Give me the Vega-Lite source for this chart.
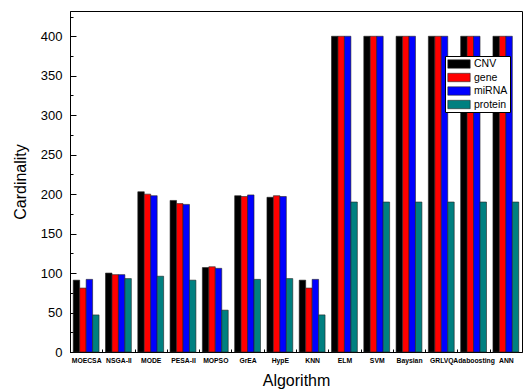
{
  "$schema": "https://vega.github.io/schema/vega-lite/v6.json",
  "autosize": "none",
  "width": 452,
  "height": 341,
  "padding": {"left": 70, "top": 11, "right": 8, "bottom": 39},
  "background": "white",
  "data": {
    "values": [
      {"algorithm": "MOECSA", "type": "CNV", "value": 91},
      {"algorithm": "MOECSA", "type": "gene", "value": 81},
      {"algorithm": "MOECSA", "type": "miRNA", "value": 92},
      {"algorithm": "MOECSA", "type": "protein", "value": 47},
      {"algorithm": "NSGA-II", "type": "CNV", "value": 100},
      {"algorithm": "NSGA-II", "type": "gene", "value": 98},
      {"algorithm": "NSGA-II", "type": "miRNA", "value": 98},
      {"algorithm": "NSGA-II", "type": "protein", "value": 93},
      {"algorithm": "MODE", "type": "CNV", "value": 203},
      {"algorithm": "MODE", "type": "gene", "value": 200},
      {"algorithm": "MODE", "type": "miRNA", "value": 198},
      {"algorithm": "MODE", "type": "protein", "value": 96},
      {"algorithm": "PESA-II", "type": "CNV", "value": 192},
      {"algorithm": "PESA-II", "type": "gene", "value": 188},
      {"algorithm": "PESA-II", "type": "miRNA", "value": 187},
      {"algorithm": "PESA-II", "type": "protein", "value": 91},
      {"algorithm": "MOPSO", "type": "CNV", "value": 107},
      {"algorithm": "MOPSO", "type": "gene", "value": 108},
      {"algorithm": "MOPSO", "type": "miRNA", "value": 106},
      {"algorithm": "MOPSO", "type": "protein", "value": 53},
      {"algorithm": "GrEA", "type": "CNV", "value": 198},
      {"algorithm": "GrEA", "type": "gene", "value": 197},
      {"algorithm": "GrEA", "type": "miRNA", "value": 199},
      {"algorithm": "GrEA", "type": "protein", "value": 92},
      {"algorithm": "HypE", "type": "CNV", "value": 196},
      {"algorithm": "HypE", "type": "gene", "value": 198},
      {"algorithm": "HypE", "type": "miRNA", "value": 197},
      {"algorithm": "HypE", "type": "protein", "value": 93},
      {"algorithm": "KNN", "type": "CNV", "value": 91},
      {"algorithm": "KNN", "type": "gene", "value": 81},
      {"algorithm": "KNN", "type": "miRNA", "value": 92},
      {"algorithm": "KNN", "type": "protein", "value": 47},
      {"algorithm": "ELM", "type": "CNV", "value": 400},
      {"algorithm": "ELM", "type": "gene", "value": 400},
      {"algorithm": "ELM", "type": "miRNA", "value": 400},
      {"algorithm": "ELM", "type": "protein", "value": 190},
      {"algorithm": "SVM", "type": "CNV", "value": 400},
      {"algorithm": "SVM", "type": "gene", "value": 400},
      {"algorithm": "SVM", "type": "miRNA", "value": 400},
      {"algorithm": "SVM", "type": "protein", "value": 190},
      {"algorithm": "Baysian", "type": "CNV", "value": 400},
      {"algorithm": "Baysian", "type": "gene", "value": 400},
      {"algorithm": "Baysian", "type": "miRNA", "value": 400},
      {"algorithm": "Baysian", "type": "protein", "value": 190},
      {"algorithm": "GRLVQ", "type": "CNV", "value": 400},
      {"algorithm": "GRLVQ", "type": "gene", "value": 400},
      {"algorithm": "GRLVQ", "type": "miRNA", "value": 400},
      {"algorithm": "GRLVQ", "type": "protein", "value": 190},
      {"algorithm": "Adaboosting", "type": "CNV", "value": 400},
      {"algorithm": "Adaboosting", "type": "gene", "value": 400},
      {"algorithm": "Adaboosting", "type": "miRNA", "value": 400},
      {"algorithm": "Adaboosting", "type": "protein", "value": 190},
      {"algorithm": "ANN", "type": "CNV", "value": 400},
      {"algorithm": "ANN", "type": "gene", "value": 400},
      {"algorithm": "ANN", "type": "miRNA", "value": 400},
      {"algorithm": "ANN", "type": "protein", "value": 190}
    ]
  },
  "mark": {"type": "bar", "stroke": "#222222", "strokeWidth": 0.6},
  "encoding": {
    "x": {
      "field": "algorithm",
      "type": "nominal",
      "sort": null,
      "scale": {"paddingInner": 0.2, "paddingOuter": 0.1},
      "axis": {
        "title": "Algorithm",
        "titleFont": "Liberation Sans",
        "titleFontSize": 16,
        "titleFontWeight": "normal",
        "titleColor": "black",
        "titlePadding": 9,
        "labelAngle": 0,
        "labelFont": "Liberation Sans",
        "labelFontSize": 6.8,
        "labelFontWeight": "bold",
        "labelColor": "black",
        "labelPadding": 8,
        "labelOffset": 16.14,
        "labelOverlap": false,
        "domainColor": "black",
        "tickColor": "black",
        "tickSize": -3,
        "tickOffset": -16.14
      }
    },
    "xOffset": {"field": "type", "type": "nominal", "sort": ["CNV", "gene", "miRNA", "protein"], "scale": {"paddingInner": 0, "paddingOuter": 0}},
    "y": {
      "field": "value",
      "type": "quantitative",
      "scale": {"domain": [0, 432], "nice": false},
      "axis": {
        "title": "Cardinality",
        "titleFont": "Liberation Sans",
        "titleFontSize": 16,
        "titleFontWeight": "normal",
        "titleColor": "black",
        "titlePadding": 12,
        "values": [0, 25, 50, 75, 100, 125, 150, 175, 200, 225, 250, 275, 300, 325, 350, 375, 400, 425],
        "labelExpr": "datum.value % 50 === 0 ? datum.label : ''",
        "labelFont": "Liberation Sans",
        "labelFontSize": 13,
        "labelColor": "black",
        "labelPadding": 14,
        "domainColor": "black",
        "tickColor": "black",
        "tickSize": {"condition": {"test": "datum.value % 50 === 0", "value": -6}, "value": -3},
        "grid": false
      }
    },
    "color": {
      "field": "type",
      "type": "nominal",
      "sort": ["CNV", "gene", "miRNA", "protein"],
      "scale": {"domain": ["CNV", "gene", "miRNA", "protein"], "range": ["#000000", "#ff0000", "#0000ff", "#008080"]},
      "legend": {
        "title": null,
        "orient": "none",
        "legendX": 375,
        "legendY": 45,
        "symbolType": "M-2,-0.75H2V0.75H-2Z",
        "symbolSize": 125,
        "symbolOffset": 6,
        "symbolStrokeColor": "#222222",
        "symbolStrokeWidth": 0.6,
        "labelFont": "Liberation Sans",
        "labelFontSize": 10.5,
        "labelColor": "black",
        "labelOffset": 9,
        "rowPadding": 1.5,
        "padding": 2,
        "strokeColor": "black",
        "fillColor": "white"
      }
    }
  },
  "config": {
    "view": {"stroke": "black", "strokeWidth": 1},
    "axis": {"domainWidth": 1}
  }
}
